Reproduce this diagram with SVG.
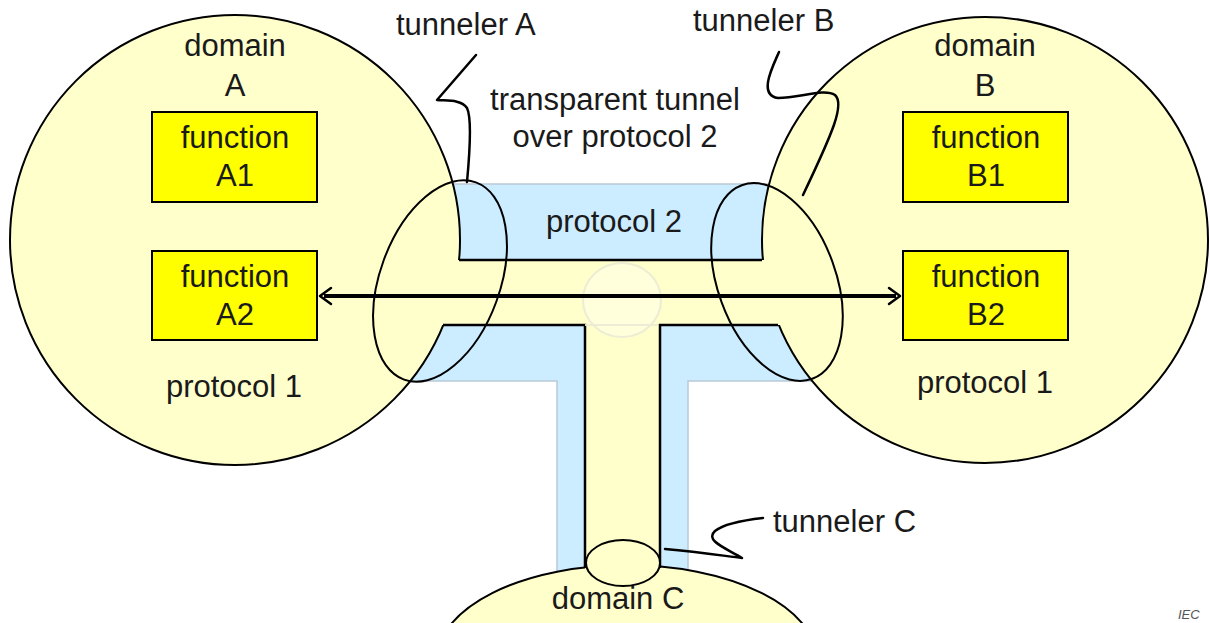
<svg xmlns="http://www.w3.org/2000/svg" width="1210" height="623" viewBox="0 0 1210 623">
  <defs>
    <style>
      .domain { fill: #FFFFCC; stroke: #000; stroke-width: 2; }
      .pale { fill: #FFFFCC; stroke: none; }
      .tube { fill: #CCECFF; stroke: #b9c9d6; stroke-width: 1.5; }
      .wall { fill: none; stroke: #000; stroke-width: 2.5; }
      .func { fill: #FFFF00; stroke: #000; stroke-width: 2; }
      .ring { fill: none; stroke: #000; stroke-width: 2; }
      .lead { fill: none; stroke: #000; stroke-width: 2.5; stroke-linecap: round; stroke-linejoin: round; }
      text { font-family: "Liberation Sans", Arial, sans-serif; font-size: 31px; fill: #1a1a1a; text-anchor: middle; }
      .left { text-anchor: start; }
    </style>
  </defs>

  <rect width="1210" height="623" fill="#fff"/>

  <!-- protocol 2 carrier: horizontal bar plus the stem down to domain C -->
  <path class="tube" d="M400,184 H830 V381 H688 V600 H557 V381 H400 Z"/>

  <g id="domain-c">
    <ellipse class="domain" cx="627" cy="660" rx="190" ry="95"/>
    <text x="618" y="609">domain C</text>
  </g>

  <g id="domain-a">
    <circle class="domain" cx="235" cy="240" r="225"/>
    <text x="235" y="56">domain</text>
    <text x="235" y="96">A</text>
    <text x="234" y="397">protocol 1</text>
  </g>

  <g id="domain-b">
    <circle class="domain" cx="985" cy="240" r="223"/>
    <text x="985" y="56">domain</text>
    <text x="985" y="96">B</text>
    <text x="985" y="393">protocol 1</text>
  </g>

  <!-- transparent tunnel passage through the carrier -->
  <g id="tunnel">
    <rect class="pale" x="440" y="260" width="350" height="65"/>
    <rect class="pale" x="585" y="320" width="75" height="252"/>
    <path class="wall" d="M459,260 H762"/>
    <path class="wall" d="M443,325 H585 V568"/>
    <path class="wall" d="M778,325 H660 V568"/>
    <text x="614" y="232">protocol 2</text>
  </g>

  <!-- faded junction of the tunnel branches -->
  <g id="junction" opacity="0.9">
    <ellipse cx="622" cy="300" rx="39" ry="37" fill="#ffffff" fill-opacity="0.35" stroke="#ecebd6" stroke-width="2"/>
    <path d="M585,325 H658" stroke="#ecebd6" stroke-width="2" fill="none"/>
  </g>

  <g id="function-a1">
    <rect class="func" x="152" y="112" width="165" height="90"/>
    <text x="235" y="148">function</text>
    <text x="235" y="186">A1</text>
  </g>
  <g id="function-a2">
    <rect class="func" x="152" y="251" width="165" height="89"/>
    <text x="235" y="287">function</text>
    <text x="235" y="325">A2</text>
  </g>
  <g id="function-b1">
    <rect class="func" x="903" y="112" width="165" height="90"/>
    <text x="986" y="148">function</text>
    <text x="986" y="186">B1</text>
  </g>
  <g id="function-b2">
    <rect class="func" x="903" y="251" width="165" height="89"/>
    <text x="986" y="287">function</text>
    <text x="986" y="325">B2</text>
  </g>

  <g id="connectors">
    <!-- end-to-end path between function A2 and function B2 -->
    <path d="M324,296 H896" stroke="#000" stroke-width="4" fill="none"/>
    <path class="lead" d="M331,288 L320,296 L331,304" stroke-width="4"/>
    <path class="lead" d="M889,288 L900,296 L889,304" stroke-width="4"/>
    <!-- callout leaders -->
    <path class="lead" d="M467,182 C470,150 472,118 467,108 C461,99 446,101 437,100 L476,55"/>
    <path class="lead" d="M779,52 C772,68 758,95 778,98 C800,98 824,88 835,95 C845,104 833,132 803,195"/>
    <path class="lead" d="M665,549 C700,552 725,556 742,558 C728,549 704,541 715,531 C725,523 745,520 763,518"/>
  </g>

  <g id="tunneler-a">
    <ellipse class="ring" cx="440" cy="281" rx="60" ry="105" transform="rotate(20 440 281)"/>
    <text class="left" x="396" y="35">tunneler A</text>
  </g>
  <g id="tunneler-b">
    <ellipse class="ring" cx="777" cy="282" rx="59" ry="103" transform="rotate(-20 777 282)"/>
    <text class="left" x="693" y="31">tunneler B</text>
  </g>
  <g id="tunneler-c">
    <ellipse class="domain" cx="623" cy="563" rx="37" ry="23"/>
    <text class="left" x="773" y="532">tunneler C</text>
  </g>

  <g id="caption">
    <text x="615" y="110">transparent tunnel</text>
    <text x="615" y="147">over protocol 2</text>
  </g>

  <text x="1178" y="619" class="left" style="font-size:13px;font-style:italic;fill:#555">IEC</text>
</svg>
